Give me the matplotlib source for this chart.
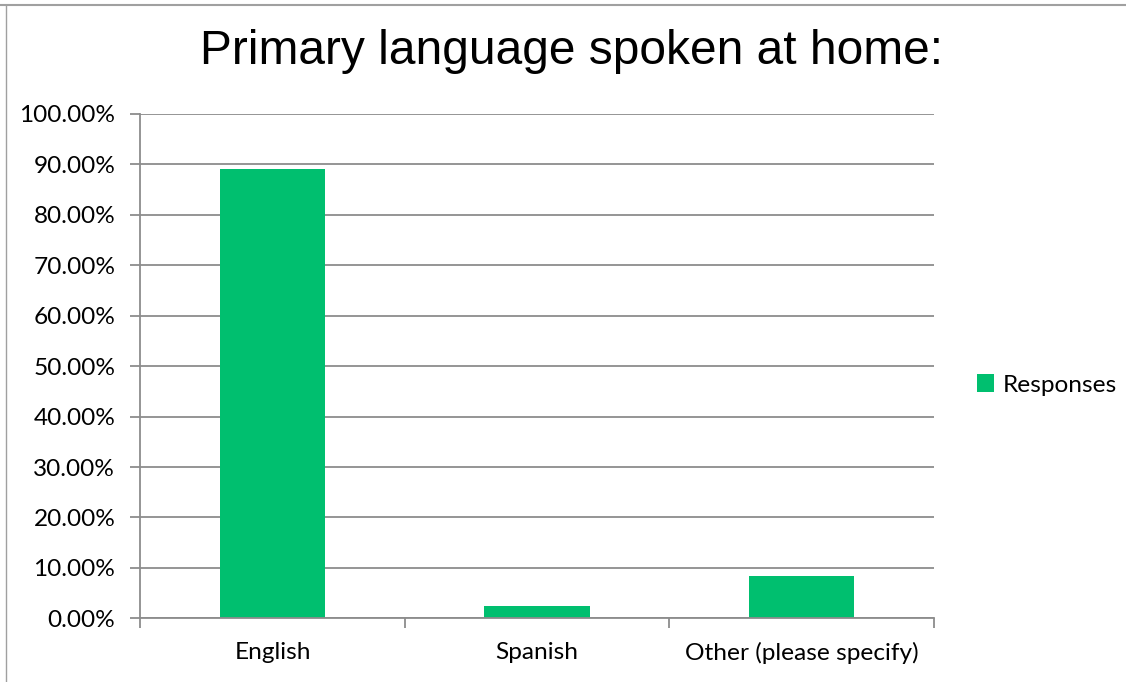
import matplotlib
matplotlib.use("Agg")
import matplotlib.pyplot as plt
from matplotlib.lines import Line2D
from matplotlib.patches import Patch
from matplotlib.ticker import FuncFormatter, FixedLocator

categories = ["English", "Spanish", "Other (please specify)"]
values = [89.13, 2.45, 8.42]
yticks = [0, 10, 20, 30, 40, 50, 60, 70, 80, 90, 100]
title = "Primary language spoken at home:"
series_name = "Responses"

W, H = 1126, 682
fig = plt.figure(figsize=(W / 100, H / 100), dpi=100)
fig.patch.set_facecolor("white")

ax = fig.add_axes([140.3 / W, (H - 618.3) / H, (933.7 - 140.3) / W, (618.3 - 114) / H])

green = "#00BF6F"
grid_c = "#8C8C8C"
lab_font = ["Lato", "DejaVu Sans"]
lab_size = 17.6

x = list(range(len(categories)))
ax.bar(x, values, width=0.4, color=green, zorder=3)

ax.set_xlim(-0.5, len(categories) - 0.5)
ax.set_ylim(0, 100)
ax.set_yticks(yticks)
ax.yaxis.set_major_formatter(FuncFormatter(lambda v, p: f"{v:.2f}%"))
ax.grid(axis="y", color=grid_c, linewidth=1.3, zorder=1)

ax.xaxis.set_major_locator(FixedLocator([i - 0.5 for i in range(len(categories) + 1)]))
ax.xaxis.set_major_formatter(FuncFormatter(lambda v, p: ""))
ax.xaxis.set_minor_locator(FixedLocator(x))
ax.set_xticklabels(categories, minor=True)
ax.tick_params(axis="x", which="major", length=7, width=1.3, color=grid_c, direction="out")
ax.tick_params(axis="x", which="minor", length=0, pad=17, labelsize=lab_size)
ax.tick_params(axis="y", length=7, width=1.3, color=grid_c, direction="out", pad=11, labelsize=lab_size)
for lab in ax.get_xticklabels(minor=True) + ax.get_yticklabels():
    lab.set_family(lab_font)
    lab.set_color("#000000")

for side in ["top", "right"]:
    ax.spines[side].set_visible(False)
for side in ["left", "bottom"]:
    ax.spines[side].set_color(grid_c)
    ax.spines[side].set_linewidth(1.3)
    ax.spines[side].set_zorder(4)

fig.text(571 / W, 1 - 52 / H, title, ha="center", va="center",
         fontsize=34.5, family=["Liberation Sans", "DejaVu Sans"], color="#000000")

handles = [Patch(facecolor=green, edgecolor="none", label=series_name)]
leg = fig.legend(handles=handles, loc="center left", bbox_to_anchor=(955 / W, 1 - 385 / H),
                 frameon=False, prop={"family": lab_font, "size": lab_size},
                 handlelength=0.7, handleheight=0.7, handletextpad=0.35)

# outer border lines (top and left)
fig.add_artist(Line2D([0, 1], [1 - 4.7 / H, 1 - 4.7 / H], transform=fig.transFigure,
                      color="#A0A0A0", linewidth=1.5))
fig.add_artist(Line2D([5.7 / W, 5.7 / W], [0, 1 - 4.7 / H], transform=fig.transFigure,
                      color="#A0A0A0", linewidth=1.0))

fig.savefig("out.png", dpi=100, facecolor="white")
